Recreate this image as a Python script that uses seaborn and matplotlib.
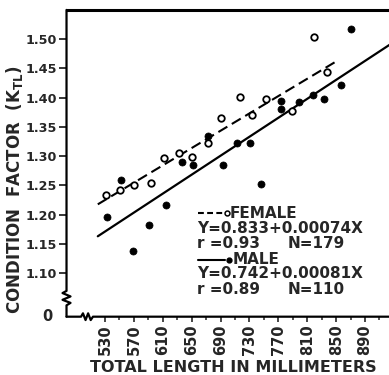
import numpy as np
import pandas as pd
import matplotlib
matplotlib.use("Agg")
import matplotlib.pyplot as plt
import seaborn as sns

# values
female_len = [531, 551, 570, 594, 612, 632, 650, 673, 691, 717, 734, 753, 789, 819, 837]
female_k = [1.234, 1.242, 1.251, 1.254, 1.297, 1.306, 1.299, 1.323, 1.365, 1.401, 1.371, 1.398, 1.377, 1.504, 1.444]
male_len = [533, 552, 569, 591, 614, 637, 652, 673, 693, 713, 731, 746, 774, 774, 799, 818, 833, 857, 871]
male_k = [1.196, 1.260, 1.138, 1.183, 1.217, 1.290, 1.285, 1.335, 1.285, 1.323, 1.323, 1.253, 1.394, 1.381, 1.393, 1.405, 1.398, 1.422, 1.518]

# regression equations from the legend
female_a, female_b = 0.833, 0.00074
male_a, male_b = 0.742, 0.00081
female_range = [520, 848]
male_range = [520, 940]

x_ticks = list(range(530, 891, 40))
y_ticks = [1.10, 1.15, 1.20, 1.25, 1.30, 1.35, 1.40, 1.45, 1.50]

sns.set_style("white")
plt.rcParams['font.family'] = ['DejaVu Sans']
plt.rcParams['font.weight'] = 'bold'
plt.rcParams['mathtext.default'] = 'bf'

fig = plt.figure(figsize=(3.89, 3.75), dpi=100)
ax = fig.add_axes([0.171, 0.1555, 0.829, 0.818])

fem = pd.DataFrame({"len": female_len, "k": female_k})
mal = pd.DataFrame({"len": male_len, "k": male_k})
fx = np.array(female_range)
mx = np.array(male_range)

sns.lineplot(x=fx, y=female_a + female_b * fx, ax=ax, color="black", lw=1.5,
             dashes=False, linestyle=(0, (5, 2.5)))
sns.lineplot(x=mx, y=male_a + male_b * mx, ax=ax, color="black", lw=1.6)
sns.scatterplot(data=fem, x="len", y="k", ax=ax, s=22, facecolor="white",
                edgecolor="black", linewidth=1.3, zorder=3)
sns.scatterplot(data=mal, x="len", y="k", ax=ax, s=26, color="black",
                edgecolor="black", linewidth=0.5, zorder=3)

ax.set_xlim(476.7, 923.2)
ax.set_ylim(1.0258, 1.550)

ax.set_xticks(x_ticks)
ax.set_xticklabels([str(v) for v in x_ticks], rotation=90, fontsize=10.5, fontweight='bold')
ax.set_xticks(list(range(550, 911, 40)), minor=True)
ax.set_yticks(y_ticks)
ax.set_yticklabels([f"{v:.2f}" for v in y_ticks], fontsize=9.2, fontweight='bold')
ax.tick_params(axis='x', which='major', direction='out', length=3.6, width=1.2, pad=2, bottom=True)
ax.tick_params(axis='x', which='minor', direction='out', length=2.2, width=1.1, bottom=True)
ax.tick_params(axis='y', direction='out', length=5.8, width=1.3, pad=1, left=True)

for s in ['left', 'bottom', 'right']:
    ax.spines[s].set_visible(False)
ax.spines['top'].set_linewidth(2.2)
ax.spines['top'].set_color('black')

# broken axis lines
a = 0.0124
left_x = [0, 0, -a, a, -a, a, 0, 0]
left_y = [1.0, 0.084, 0.077, 0.066, 0.055, 0.045, 0.037, 0.0]
ax.plot(left_x, left_y, transform=ax.transAxes, color="black", lw=1.6, clip_on=False)
b = 0.011
bot_x = [0, 0.045, 0.051, 0.059, 0.067, 0.075, 0.082, 1.0]
bot_y = [0, 0, b, -b, b, -b, 0, 0]
ax.plot(bot_x, bot_y, transform=ax.transAxes, color="black", lw=1.6, clip_on=False)
ax.text(-0.042, 0.0, "0", transform=ax.transAxes, ha="right", va="center",
        fontsize=10.5, fontweight="bold")

ax.set_xlabel("")
ax.set_ylabel("")
ax.text(0.516, -0.166, "TOTAL LENGTH IN MILLIMETERS", transform=ax.transAxes,
        ha="center", va="center", fontsize=11.5, fontweight="bold")
ax.text(-0.162, 0.413, r"CONDITION  FACTOR  (K$_{TL}$)", transform=ax.transAxes,
        ha="center", va="center", rotation=90, fontsize=12, fontweight="bold")


def px(x):
    return (x - 66.5) / 322.5


def py(y):
    return (316.7 - y) / 306.7


tf = ax.transAxes
kw = dict(transform=tf, ha="left", va="center", fontsize=11, fontweight="bold")
ax.plot([px(198), px(223)], [py(213.5), py(213.5)], transform=tf, color="black",
        lw=1.5, linestyle=(0, (2.8, 1.6)), clip_on=False)
ax.plot([px(226.5)], [py(213.5)], transform=tf, marker="o", ms=3.5, mfc="white",
        mec="black", mew=1.1, clip_on=False)
ax.text(px(230), py(213.3), "FEMALE", **kw)
ax.text(px(197), py(228.3), "Y=0.833+0.00074X", **kw)
ax.text(px(197), py(243.3), "r =0.93", **kw)
ax.text(px(288), py(243.3), "N=179", **kw)
ax.plot([px(198), px(225)], [py(260), py(260)], transform=tf, color="black",
        lw=1.5, clip_on=False)
ax.plot([px(229)], [py(260)], transform=tf, marker="o", ms=3.5, color="black", clip_on=False)
ax.text(px(233), py(260), "MALE", **kw)
ax.text(px(197), py(274), "Y=0.742+0.00081X", **kw)
ax.text(px(197), py(289.3), "r =0.89", **kw)
ax.text(px(288), py(289.3), "N=110", **kw)

fig.savefig("out.png", dpi=100)
